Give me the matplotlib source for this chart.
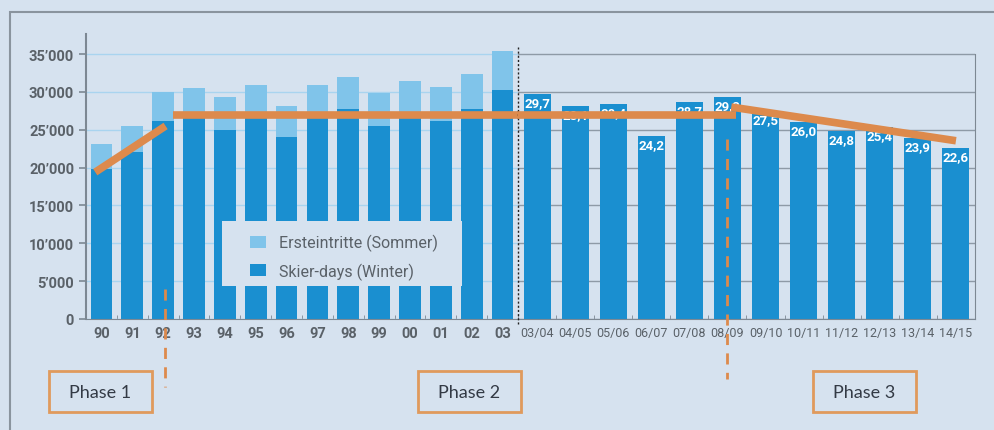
import numpy as np
import matplotlib.pyplot as plt
from matplotlib.patches import Rectangle

# data
years_early = ['90', '91', '92', '93', '94', '95', '96', '97', '98', '99', '00', '01', '02', '03']
winter_early = [19800, 22100, 26200, 26900, 25000, 26900, 24100, 26900, 27700, 25500, 26800, 26200, 27800, 30300]
total_early = [23100, 25500, 30000, 30500, 29300, 30900, 28100, 30900, 32000, 29900, 31500, 30600, 32300, 35400]

seasons = ['03/04', '04/05', '05/06', '06/07', '07/08', '08/09', '09/10', '10/11', '11/12', '12/13', '13/14', '14/15']
winter_late = [29.7, 28.1, 28.4, 24.2, 28.7, 29.3, 27.5, 26.0, 24.8, 25.4, 23.9, 22.6]  # in thousands

# trend lines (start, end) as (x index, value)
phase1_x = [-0.2, 2.08]
phase1_y = [19400, 25500]
phase2_y = 27000
phase3_x = [5.1, 11.0]
phase3_y = [28000, 23550]
phase_labels = ['Phase 1', 'Phase 2', 'Phase 3']

BG = '#d6e2ef'
DARK = '#1a8fd0'
LIGHT = '#80c4ea'
ORANGE = '#dd8a4c'
GREY = '#7d8893'
TXT = '#5a6168'
FONT = ['Roboto', 'DejaVu Sans']

fig = plt.figure(figsize=(9.94, 4.31), dpi=100)
fig.patch.set_facecolor(BG)

# outer frame
fig.patches.append(Rectangle((10 / 994, -0.1), 1.2, 1.1 - 13 / 431, transform=fig.transFigure,
                             fill=False, edgecolor='#8a949e', lw=1.5))

ymax = 37650
y0, y1 = 1 - 320 / 431, 1 - 35 / 431
ax1 = fig.add_axes([86 / 994, y0, (518 - 86) / 994, y1 - y0])
ax2 = fig.add_axes([518 / 994, y0, (975 - 518) / 994, y1 - y0])

for ax in (ax1, ax2):
    ax.set_facecolor('none')
    ax.set_ylim(0, ymax)
    ax.set_yticks(np.arange(0, 35001, 5000))
    ax.spines['top'].set_visible(False)
    ax.spines['bottom'].set_color(GREY)
    ax.set_axisbelow(True)

# left part
x1 = np.arange(len(years_early))
ax1.bar(x1, total_early, width=0.7, color=LIGHT, label='Ersteintritte (Sommer)', zorder=2)
ax1.bar(x1, winter_early, width=0.7, color=DARK, label='Skier-days (Winter)', zorder=2)
ax1.set_xlim(-0.5, len(years_early) - 0.5)
ax1.set_xticks(x1)
ax1.set_xticklabels(years_early)
ax1.set_xticks(np.arange(-0.5, len(years_early), 1), minor=True)
ax1.tick_params(axis='x', which='major', length=0, labelsize=10.5, labelcolor=TXT, pad=5)
ax1.tick_params(axis='x', which='minor', length=3, direction='in', color=GREY)
ax1.set_yticklabels(['0'] + [f"{v // 1000}’000" for v in range(5000, 35001, 5000)])
ax1.tick_params(axis='y', length=5, color=GREY, labelsize=10.5, labelcolor=TXT, width=1.2)
for t in ax1.get_xticklabels() + ax1.get_yticklabels():
    t.set_family(FONT)
    t.set_fontweight('bold')
ax1.spines['right'].set_visible(False)
ax1.spines['left'].set_color(GREY)
ax1.spines['left'].set_linewidth(1.5)
ax1.grid(axis='y', color='#a9d4ef', lw=1)

# legend panel covering the bars
ax1.add_patch(Rectangle((136 / 432, 33 / 285), 240 / 432, 65 / 285, transform=ax1.transAxes,
                        facecolor=BG, edgecolor='none', zorder=4))
leg = ax1.legend(loc='upper left', bbox_to_anchor=(164 / 432, 85 / 285), frameon=False,
                 borderpad=0, borderaxespad=0, labelspacing=0.7, handlelength=1.0,
                 handleheight=0.8, handletextpad=0.8, prop={'family': FONT, 'size': 11.5})
for t in leg.get_texts():
    t.set_color(TXT)
leg.set_zorder(5)

# right part
x2 = np.arange(len(seasons))
vals = [v * 1000 for v in winter_late]
ax2.bar(x2, vals, width=0.71, color=DARK, zorder=2)
ax2.set_xlim(-0.5, len(seasons) - 0.5)
ax2.set_xticks(x2)
ax2.set_xticklabels(seasons, family=FONT)
ax2.set_xticks(np.arange(0.5, len(seasons), 1), minor=True)
ax2.tick_params(axis='x', which='major', length=0, labelsize=9, labelcolor=TXT, pad=5)
ax2.tick_params(axis='x', which='minor', length=3, direction='in', color=GREY)
ax2.tick_params(axis='y', left=False, labelleft=False)
ax2.spines['left'].set_visible(False)
ax2.spines['right'].set_color(GREY)
ax2.spines['right'].set_bounds(0, 35000)
ax2.grid(axis='y', color='#8e9aa6', lw=1)
for xi, v in zip(x2, winter_late):
    ax2.text(xi, v * 1000 - 250, f"{v:.1f}".replace('.', ','), ha='center', va='top',
             color='white', fontsize=9.5, fontweight='bold', family=FONT, zorder=3)

# dotted separator
ax2.plot([-0.5, -0.5], [-600, 35900], ls=(0, (1.5, 1.5)), color='#222222', lw=1, clip_on=False, zorder=4)

# phase trend lines
kw = dict(color=ORANGE, lw=5.5, solid_capstyle='butt', clip_on=False, zorder=6)
ax1.plot(phase1_x, phase1_y, **kw)
ax1.plot([2.32, len(years_early) - 0.5], [phase2_y, phase2_y], **kw)
ax2.plot([-0.5, 5.22], [phase2_y, phase2_y], **kw)
ax2.plot(phase3_x, phase3_y, **kw)

# phase boundaries
dkw = dict(color=ORANGE, lw=2, ls=(0, (4, 3)), clip_on=False, zorder=5)
ax1.plot([2.06, 2.06], [3950, -9000], **dkw)
ax2.plot([5.0, 5.0], [23800, -7900], **dkw)

# phase boxes
for label, left in zip(phase_labels, [49, 418, 813]):
    fig.patches.append(Rectangle((left / 994, 1 - 413 / 431), 103 / 994, 41 / 431,
                                 transform=fig.transFigure, fill=False, edgecolor='#e09a5c', lw=2))
    fig.text((left + 51.5) / 994, 1 - 392.5 / 431, label, ha='center', va='center',
             fontsize=13, color='#333a45', family='Lato')

fig.savefig('out.png', dpi=100, facecolor=BG)
